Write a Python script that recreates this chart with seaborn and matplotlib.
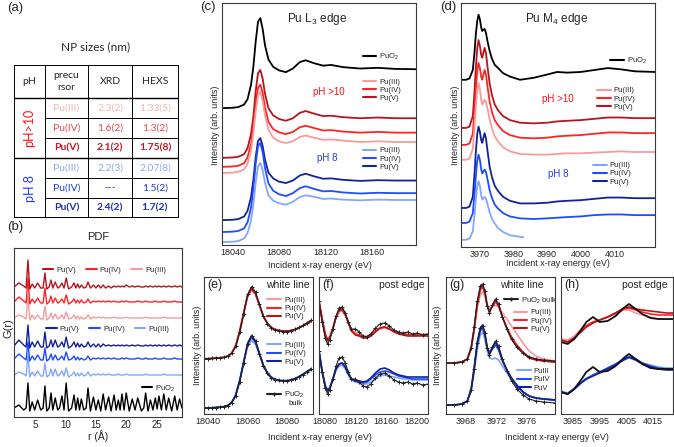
import matplotlib
matplotlib.use('Agg')
import matplotlib.pyplot as plt
import numpy as np
import seaborn as sns
from matplotlib.legend import Legend
from matplotlib.lines import Line2D
from matplotlib.ticker import FixedLocator, MultipleLocator

sns.set_style('white')
plt.rcParams['font.family'] = ['Liberation Sans', 'DejaVu Sans']
plt.rcParams['mathtext.fontset'] = 'custom'
plt.rcParams['mathtext.rm'] = 'Liberation Sans'

# ---------------- data ----------------
# (a) NP sizes table
table_precursor = ['Pu(III)', 'Pu(IV)', 'Pu(V)', 'Pu(III)', 'Pu(IV)', 'Pu(V)']
table_xrd = ['2.3(2)', '1.6(2)', '2.1(2)', '2.2(3)', '---', '2.4(2)']
table_hexs = ['1.33(5)', '1.3(2)', '1.75(8)', '2.07(8)', '1.5(2)', '1.7(2)']

# (b) PDF, G(r) (arb. units)
r_pdf = [1.5, 2.3, 3.1, 3.5, 3.8, 4.1, 4.5, 4.9, 5.4, 5.9,
         6.3, 6.6, 6.9, 7.3, 7.6, 7.9, 8.3, 8.7, 9.0, 9.4,
         9.75, 10.1, 10.5, 11.0, 11.4, 11.7, 12.0, 12.3, 12.6, 13.0,
         13.4, 13.7, 14.1, 14.6, 15.0, 15.4, 15.8, 16.2, 16.6, 17.1,
         17.5, 18.0, 18.35, 18.7, 19.0, 19.3, 19.65, 20.0, 20.5, 21.0,
         21.45, 21.9, 22.5, 22.9, 23.2, 23.6, 24.0, 24.4, 24.8, 25.1,
         25.4, 25.8, 26.2, 26.6, 27.0, 27.5, 28.0, 28.4, 28.8, 29.2]
g_puo2 = [0, 3, -2, 0, 25, -3, 6, -2, 8, -2,
          0, 22, -3, 0, 15, -2, 10, -2, 0, 12,
          -2, 25, -3, 0, 13, -2, 10, -2, 9, -2,
          0, 20, -3, 11, -2, 8, -3, 14, -2, 11,
          -3, 13, -2, 8, -2, 14, -2, 15, -3, 9,
          -2, 10, -3, 0, 15, -3, 8, -2, 10, -1,
          12, -2, 14, -2, 10, -3, 12, -2, 9, 0]
g_pu5_hi = [0, 4, 1, -1, 27, -2, 3, -1, 4, -1,
            -1, 14, -2, 0, 7, -1, 5, -1, 0, 4,
            -1, 9, -2, 0, 4, -1, 3, -1, 2, -1,
            0, 5, -1, 2, -1, 2, -1, 2, -1, 1,
            -1, 1, 0, 1, 0, 1, 0, 2, 0, 1,
            0, 1, 0, 0, 1, 0, 1, 0, 1, 0,
            1, 0, 1, 0, 1, 0, 1, 0, 1, 0]
g_pu4_hi = [0, 5, 1, -1, 24, -2, 3, -1, 4, -1,
            -1, 14, -2, 0, 6, -1, 4, -1, 0, 3,
            -1, 7, -2, 0, 3, -1, 2, -1, 2, -1,
            0, 3, -1, 1, 0, 1, 0, 1, 0, 1,
            0, 1, 0, 0, 0, 1, 0, 1, 0, 0,
            0, 1, 0, 0, 1, 0, 0, 0, 1, 0,
            0, 0, 1, 0, 0, 0, 1, 0, 0, 0]
g_pu3_hi = [0, 3, 1, -1, 22, -2, 3, -1, 3, -1,
            -1, 12, -2, 0, 5, -1, 4, -1, 0, 3,
            -1, 6, -1, 0, 3, -1, 2, -1, 1, -1,
            0, 3, -1, 1, 0, 1, 0, 1, 0, 0,
            0, 1, 0, 0, 0, 0, 0, 1, 0, 0,
            0, 0, 0, 0, 1, 0, 0, 0, 0, 0,
            0, 0, 1, 0, 0, 0, 0, 0, 0, 0]
g_pu5_8 = [0, 6, 1, -1, 21, -2, 4, -1, 5, -1,
           -1, 14, -2, 0, 6, -1, 6, -1, 0, 4,
           -1, 9, -2, 0, 4, -1, 3, -1, 2, -1,
           0, 4, -1, 2, -1, 2, -1, 2, 0, 1,
           0, 1, 0, 1, 0, 1, 0, 1, 0, 1,
           0, 1, 0, 0, 1, 0, 1, 0, 1, 0,
           1, 0, 1, 0, 1, 0, 1, 0, 1, 0]
g_pu4_8 = [0, 5, 1, -1, 17, -2, 3, -1, 4, -1,
           -1, 11, -2, 0, 5, -1, 4, -1, 0, 3,
           -1, 7, -1, 0, 3, -1, 2, -1, 1, -1,
           0, 3, -1, 1, 0, 1, 0, 1, 0, 1,
           0, 1, 0, 0, 0, 1, 0, 1, 0, 0,
           0, 1, 0, 0, 1, 0, 0, 0, 1, 0,
           0, 0, 1, 0, 0, 0, 1, 0, 0, 0]
g_pu3_8 = [0, 3, 1, -1, 20, -2, 3, -1, 4, -1,
           -1, 12, -2, 0, 6, -1, 6, -1, 0, 4,
           -1, 7, -2, 0, 3, -1, 2, -1, 2, -1,
           0, 3, -1, 1, 0, 1, 0, 1, 0, 1,
           0, 0, 0, 1, 0, 0, 0, 1, 0, 0,
           0, 0, 0, 0, 1, 0, 0, 0, 0, 0,
           0, 0, 1, 0, 0, 0, 0, 0, 0, 0]

# (c) Pu L3 edge, normalised intensity
e_l3 = [18031, 18040, 18045, 18050, 18053, 18056, 18058, 18060, 18062, 18064,
        18066, 18068, 18071, 18075, 18080, 18086, 18092, 18098, 18103, 18110,
        18118, 18125, 18135, 18150, 18165, 18180, 18201]
l3_puo2 = [0, 0.01, 0.03, 0.10, 0.25, 0.65, 1.15, 1.85, 2.40, 2.50, 2.20, 1.75, 1.35, 1.15,
           1.05, 1.00, 1.10, 1.28, 1.33, 1.25, 1.18, 1.20, 1.14, 1.10, 1.12, 1.09, 1.08]
l3_pu3_hi = [0, 0.01, 0.03, 0.10, 0.25, 0.62, 1.10, 1.70, 2.15, 2.25, 2.00, 1.60, 1.20, 0.98,
             0.88, 0.83, 0.88, 1.00, 1.04, 0.98, 0.92, 0.93, 0.90, 0.86, 0.88, 0.86, 0.86]
l3_pu4_hi = [0, 0.01, 0.03, 0.10, 0.26, 0.64, 1.12, 1.75, 2.20, 2.28, 2.05, 1.65, 1.25, 1.05,
             0.96, 0.91, 0.97, 1.10, 1.14, 1.08, 1.01, 1.02, 0.98, 0.95, 0.97, 0.95, 0.95]
l3_pu5_hi = [0, 0.01, 0.03, 0.10, 0.27, 0.66, 1.15, 1.85, 2.35, 2.44, 2.20, 1.78, 1.38, 1.18,
             1.08, 1.03, 1.10, 1.25, 1.30, 1.23, 1.16, 1.17, 1.13, 1.10, 1.12, 1.10, 1.10]
l3_pu3_8 = [0, 0.01, 0.03, 0.10, 0.25, 0.60, 1.05, 1.65, 2.10, 2.20, 2.00, 1.65, 1.30, 1.15,
            1.08, 1.04, 1.12, 1.25, 1.30, 1.26, 1.20, 1.21, 1.18, 1.16, 1.18, 1.17, 1.17]
l3_pu4_8 = [0, 0.01, 0.03, 0.10, 0.27, 0.68, 1.20, 1.90, 2.38, 2.47, 2.22, 1.78, 1.35, 1.15,
            1.05, 1.00, 1.08, 1.22, 1.27, 1.20, 1.13, 1.14, 1.10, 1.07, 1.09, 1.08, 1.08]
l3_pu5_8 = [0, 0.01, 0.03, 0.10, 0.26, 0.64, 1.12, 1.75, 2.20, 2.28, 2.06, 1.68, 1.32, 1.16,
            1.07, 1.03, 1.10, 1.24, 1.29, 1.22, 1.15, 1.16, 1.12, 1.09, 1.11, 1.10, 1.10]

# (d) Pu M4 edge
e_m4 = [3964.5, 3966, 3967, 3968, 3968.5, 3968.9, 3969.3, 3969.7, 3970.1, 3970.5,
        3970.8, 3971.1, 3971.5, 3971.9, 3972.4, 3973.0, 3973.7, 3974.5, 3975.5, 3977,
        3979, 3982, 3986, 3990, 3993, 3996, 4000, 4004, 4008, 4012,
        4016, 4022]
m4_puo2 = [0, 0, 0.02, 0.15, 0.42, 0.70, 0.90, 1.00, 0.93, 0.80,
           0.75, 0.77, 0.78, 0.72, 0.58, 0.44, 0.32, 0.23, 0.18, 0.10,
           0.05, 0.00, 0.03, 0.08, 0.12, 0.11, 0.12, 0.15, 0.18, 0.16,
           0.13, 0.12]
m4_pu5_hi = [0, 0, 0.02, 0.18, 0.55, 0.92, 1.22, 1.35, 1.26, 1.12,
             1.08, 1.15, 1.23, 1.15, 0.92, 0.68, 0.50, 0.36, 0.27, 0.18,
             0.12, 0.08, 0.07, 0.08, 0.10, 0.11, 0.12, 0.14, 0.16, 0.16,
             0.15, 0.15]
m4_pu4_hi = [0, 0, 0.02, 0.17, 0.52, 0.86, 1.14, 1.26, 1.18, 1.04,
             1.00, 1.07, 1.15, 1.08, 0.88, 0.66, 0.50, 0.38, 0.30, 0.21,
             0.15, 0.11, 0.10, 0.11, 0.13, 0.14, 0.15, 0.17, 0.19, 0.19,
             0.18, 0.18]
m4_pu3_hi = [0, 0, 0.02, 0.17, 0.50, 0.82, 1.07, 1.18, 1.08, 0.92,
             0.85, 0.88, 0.92, 0.89, 0.78, 0.62, 0.48, 0.36, 0.28, 0.19,
             0.13, 0.09, 0.08, 0.08, 0.09, 0.10, 0.10, 0.11, 0.12, 0.13,
             0.12, 0.12]
m4_pu5_8 = [0, 0, 0.02, 0.17, 0.52, 0.86, 1.13, 1.25, 1.17, 1.04,
            1.00, 1.07, 1.15, 1.07, 0.86, 0.63, 0.47, 0.34, 0.26, 0.17,
            0.11, 0.07, 0.07, 0.08, 0.10, 0.11, 0.12, 0.14, 0.16, 0.16,
            0.15, 0.15]
m4_pu4_8 = [0, 0, 0.02, 0.15, 0.44, 0.72, 0.95, 1.05, 0.97, 0.82,
            0.76, 0.79, 0.82, 0.78, 0.66, 0.50, 0.38, 0.28, 0.22, 0.15,
            0.10, 0.07, 0.06, 0.07, 0.08, 0.09, 0.10, 0.12, 0.13, 0.13,
            0.12, 0.12]
e_m4_pu3_8 = [3964.5, 3966, 3967, 3968, 3968.5, 3968.9, 3969.3, 3969.7, 3970.1, 3970.5,
              3970.8, 3971.1, 3971.5, 3971.9, 3972.4, 3973.0, 3973.7, 3974.5, 3975.5, 3977,
              3979, 3983]
m4_pu3_8 = [0, 0, 0.02, 0.13, 0.38, 0.62, 0.82, 0.90, 0.83, 0.68,
            0.62, 0.64, 0.66, 0.63, 0.54, 0.42, 0.32, 0.25, 0.18, 0.12,
            0.07, 0.04]

# (e) L3 white line
e_wl = [18038, 18040, 18042, 18044, 18046, 18048, 18050, 18052, 18054, 18056,
        18058, 18060, 18062, 18064, 18066, 18068, 18070, 18072, 18074, 18076,
        18078, 18080, 18082, 18084, 18086, 18088, 18090, 18092]
wl_puo2 = [0, 0, 0.01, 0.02, 0.03, 0.05, 0.09, 0.19, 0.44, 0.94, 1.60, 2.28, 2.56, 2.37,
           1.93, 1.50, 1.24, 1.08, 1.01, 0.98, 0.96, 0.96, 0.99, 1.04, 1.11, 1.19, 1.28, 1.37]
wl_pu5_hi = [0, 0, 0.01, 0.02, 0.03, 0.05, 0.09, 0.20, 0.45, 0.95, 1.60, 2.25, 2.50, 2.32,
             1.90, 1.50, 1.25, 1.10, 1.03, 1.00, 0.98, 0.98, 1.00, 1.04, 1.10, 1.17, 1.25, 1.33]
wl_pu4_hi = [0, 0, 0.01, 0.02, 0.03, 0.05, 0.09, 0.20, 0.46, 0.97, 1.62, 2.24, 2.47, 2.30,
             1.89, 1.50, 1.25, 1.10, 1.03, 1.00, 0.98, 0.98, 1.00, 1.04, 1.10, 1.17, 1.25, 1.33]
wl_pu3_hi = [0, 0, 0.01, 0.02, 0.03, 0.05, 0.09, 0.21, 0.48, 1.00, 1.63, 2.20, 2.42, 2.28,
             1.90, 1.52, 1.27, 1.12, 1.04, 1.01, 0.99, 0.99, 1.01, 1.05, 1.10, 1.17, 1.24, 1.31]
wl_pu5_8 = [0, 0, 0.01, 0.02, 0.03, 0.05, 0.09, 0.20, 0.45, 0.96, 1.62, 2.30, 2.57, 2.38,
            1.93, 1.50, 1.23, 1.07, 1.00, 0.97, 0.96, 0.96, 0.99, 1.04, 1.12, 1.20, 1.30, 1.39]
wl_pu4_8 = [0, 0, 0.01, 0.02, 0.03, 0.05, 0.09, 0.20, 0.46, 0.97, 1.62, 2.26, 2.50, 2.33,
            1.91, 1.50, 1.24, 1.08, 1.01, 0.98, 0.97, 0.97, 1.00, 1.05, 1.12, 1.20, 1.29, 1.38]
wl_pu3_8 = [0, 0, 0.01, 0.02, 0.03, 0.05, 0.09, 0.21, 0.48, 1.00, 1.62, 2.18, 2.39, 2.26,
            1.90, 1.53, 1.27, 1.11, 1.03, 1.00, 0.98, 0.98, 1.00, 1.05, 1.11, 1.19, 1.28, 1.36]

# (f) L3 post edge
e_pe = [18073, 18077, 18081, 18084, 18087, 18091, 18095, 18099, 18103, 18107,
        18111, 18115, 18120, 18125, 18130, 18135, 18140, 18146, 18152, 18158,
        18164, 18170, 18176, 18182, 18188, 18194, 18200, 18207, 18214]
pe_puo2 = [40, 19, 3, -3, 1, 12, 25, 33, 34, 28, 19, 12, 12, 9, 5,
           4, 7, 13, 17, 18, 15, 11, 9, 8, 9, 7, 8, 6, 7]
pe_pu5_hi = [40, 22, 6, 0, 3, 12, 24, 31, 32, 27, 18, 10, 6, 5, 3,
             3, 5, 9, 13, 14, 12, 9, 7, 6, 5, 5, 5, 5, 5]
pe_pu4_hi = [40, 22, 7, 1, 4, 13, 24, 30, 31, 26, 18, 11, 7, 6, 4,
             4, 6, 10, 13, 14, 12, 10, 8, 7, 6, 6, 6, 6, 6]
pe_pu3_hi = [40, 23, 8, 2, 5, 13, 23, 29, 30, 26, 18, 11, 8, 6, 5,
             5, 7, 10, 12, 13, 12, 10, 8, 7, 7, 7, 7, 7, 7]
pe_pu5_8 = [40, 20, 5, 0, 3, 12, 22, 27, 28, 24, 17, 12, 10, 10, 9,
            10, 13, 18, 22, 23, 21, 18, 16, 15, 14, 14, 14, 14, 14]
pe_pu4_8 = [40, 20, 5, 0, 3, 12, 22, 27, 28, 24, 17, 12, 10, 10, 8,
            9, 12, 16, 19, 20, 19, 17, 15, 14, 13, 12, 12, 12, 12]
pe_pu3_8 = [40, 21, 6, 1, 4, 12, 21, 25, 26, 22, 16, 11, 9, 8, 7,
            7, 9, 12, 15, 16, 15, 14, 13, 12, 12, 11, 11, 11, 11]

# (g) M4 white line
e_mwl = [3965.4, 3966.5, 3967.5, 3968.2, 3968.7, 3969.1, 3969.5, 3969.9, 3970.2, 3970.5,
         3970.8, 3971.1, 3971.5, 3971.9, 3972.3, 3972.8, 3973.4, 3974.0, 3974.7, 3975.5,
         3976.3, 3977.2, 3978.2, 3979.7]
mwl_puo2 = [0, 0, 1, 4, 15, 36, 62, 77, 79, 72, 57, 50, 58, 64, 59, 46, 34, 24, 16, 10, 6, 4, 3, 2]
mwl_pu5_hi = [0, 0, 1, 4, 15, 35, 60, 75, 78, 72, 58, 51, 58, 63, 58, 46, 34, 24, 16, 10, 5, 3, 2, 1]
mwl_pu4_hi = [0, 0, 1, 4, 15, 34, 58, 73, 76, 70, 57, 51, 57, 61, 57, 46, 35, 26, 18, 11, 6, 4, 2, 1]
mwl_pu3_hi = [0, 0, 1, 4, 14, 32, 55, 68, 71, 67, 58, 54, 56, 58, 56, 50, 44, 37, 29, 20, 12, 7, 4, 2]
mwl_pu5_8 = [0, 0, 1, 4, 16, 38, 63, 77, 80, 72, 58, 52, 58, 63, 57, 45, 35, 27, 20, 13, 9, 7, 6, 5]
mwl_pu4_8 = [0, 0, 1, 4, 15, 36, 60, 74, 77, 70, 57, 51, 56, 60, 55, 44, 34, 26, 19, 13, 9, 7, 6, 5]
mwl_pu3_8 = [0, 0, 1, 4, 14, 33, 56, 70, 73, 66, 54, 47, 46, 47, 45, 39, 32, 25, 19, 13, 9, 7, 6, 5]

# (h) M4 post edge
e_mpe = [3980.5, 3983, 3985.5, 3988, 3990, 3992.5, 3995, 3998, 4001, 4004,
         4006, 4008.5, 4011, 4014, 4017, 4020, 4022.5]
mpe_puo2 = [0, -2, 3, 12, 20, 25, 20, 21, 26, 34, 38, 33, 28, 24, 23, 23, 23]
mpe_pu5_hi = [2, 0, 4, 10, 15, 19, 22, 25, 29, 34, 35, 33, 32, 31, 30, 29, 29]
mpe_pu4_hi = [2, 0, 4, 11, 16, 20, 22, 25, 29, 33, 34, 32, 30, 28, 27, 27, 27]
mpe_pu3_hi = [3, 2, 6, 13, 17, 20, 22, 25, 28, 32, 32, 29, 27, 25, 23, 23, 23]
mpe_pu5_8 = [0, -2, 3, 9, 13, 16, 19, 23, 27, 32, 35, 32, 28, 25, 23, 22, 22]
mpe_pu4_8 = [0, -2, 3, 9, 13, 17, 20, 24, 28, 33, 35, 33, 29, 26, 24, 23, 23]
mpe_pu3_8 = [1, -1, 4, 10, 14, 17, 20, 24, 28, 32, 34, 32, 29, 27, 25, 24, 24]

# ---------------- styling ----------------
R3, R4, R5 = '#f59c9c', '#ff2424', '#b8141c'
B3, B4, B5 = '#84a6ff', '#1f4cff', '#14229a'
TXT_R, TXT_B = '#ff1010', '#2238ff'
SPINE = '#3a3a3a'

W, H = 674, 447
fig = plt.figure(figsize=(W / 100, H / 100), dpi=100)


def box(x0, y0, x1, y1):
    # axes given in pixel corners of the reference picture
    return fig.add_axes([x0 / W, 1 - y1 / H, (x1 - x0) / W, (y1 - y0) / H])


def trace(ax, x, y, shift, color, lw=1.3, marker=None):
    yy = np.asarray(y, dtype=float) + shift
    kw = {}
    if marker:
        kw = dict(marker=marker, markersize=3.5, markeredgewidth=0.7, markeredgecolor=color)
    sns.lineplot(x=list(x), y=yy, ax=ax, color=color, lw=lw, sort=False, estimator=None, **kw)


def style(ax, xlim, ylim, ticks, minor, size=6.5):
    ax.set_xlim(xlim)
    ax.set_ylim(ylim)
    ax.xaxis.set_major_locator(FixedLocator(ticks))
    ax.xaxis.set_minor_locator(MultipleLocator(minor))
    ax.set_yticks([])
    ax.tick_params(axis='x', which='major', direction='in', length=3.5, width=0.7,
                   labelsize=size, pad=2, color=SPINE)
    ax.tick_params(axis='x', which='minor', direction='in', length=2, width=0.6, color=SPINE)
    for s in ax.spines.values():
        s.set_linewidth(0.8)
        s.set_color(SPINE)
    ax.set_xlabel('')
    ax.set_ylabel('')


def key(ax, labels, colors, anchor, fs=5.5, marker=None, ncol=1, hl=1.8, cs=1.0):
    handles = [Line2D([], [], color=c, lw=1.5, marker=marker, markersize=3.5, mec=c) for c in colors]
    leg = Legend(ax, handles, labels, loc='center left', bbox_to_anchor=anchor, frameon=False,
                 fontsize=fs, handlelength=hl, handletextpad=0.4, labelspacing=0.12,
                 borderpad=0, borderaxespad=0, ncol=ncol, columnspacing=cs)
    ax.add_artist(leg)


ax_b = box(14, 248, 182, 417)
ax_c = box(222, 3, 416, 245)
ax_d = box(461, 3, 655, 247)
ax_e = box(204, 277, 313, 414)
ax_f = box(319, 277, 428, 414)
ax_g = box(446, 277, 555, 414)
ax_h = box(561, 277, 673, 414)

# (b) PDF
for y, c, off in [(g_puo2, 'k', 9), (g_pu3_8, B3, 42), (g_pu4_8, B4, 58), (g_pu5_8, B5, 71),
                  (g_pu3_hi, R3, 99), (g_pu4_hi, R4, 115), (g_pu5_hi, R5, 130)]:
    trace(ax_b, r_pdf, y, off, c, lw=1.0)
style(ax_b, (1.5, 29.2), (0, 169), [5, 10, 15, 20, 25], 1, size=7)
ax_b.set_xlabel('r (Å)', fontsize=7.5, labelpad=0)
key(ax_b, ['Pu(V)', 'Pu(IV)', 'Pu(III)'], [R5, R4, R3], (0.17, 0.87), ncol=3, hl=1.4, cs=1.3)
key(ax_b, ['Pu(V)', 'Pu(IV)', 'Pu(III)'], [B5, B4, B3], (0.19, 0.52), ncol=3, hl=1.4, cs=1.3)
key(ax_b, ['PuO$_2$'], ['k'], (0.76, 0.17), hl=1.4)

# (c) L3 edge
for y, c, off in [(l3_puo2, 'k', 3.8), (l3_pu5_hi, R5, 2.42), (l3_pu4_hi, R4, 2.17),
                  (l3_pu3_hi, R3, 2.0), (l3_pu5_8, B5, 0.69), (l3_pu4_8, B4, 0.36),
                  (l3_pu3_8, B3, 0.08)]:
    trace(ax_c, e_l3, y, off, c)
style(ax_c, (18031, 18198), (0, 6.72), [18040, 18080, 18120, 18160], 10)
ax_c.text(0.49, 0.935, 'Pu L$_3$ edge', transform=ax_c.transAxes, ha='center', va='center', fontsize=8.5)
ax_c.text(0.55, 0.632, 'pH >10', transform=ax_c.transAxes, ha='center', va='center', fontsize=7, color=TXT_R)
ax_c.text(0.54, 0.36, 'pH 8', transform=ax_c.transAxes, ha='center', va='center', fontsize=7, color=TXT_B)
key(ax_c, ['PuO$_2$'], ['k'], (0.725, 0.777))
key(ax_c, ['Pu(III)', 'Pu(IV)', 'Pu(V)'], [R3, R4, R5], (0.725, 0.64))
key(ax_c, ['Pu(III)', 'Pu(IV)', 'Pu(V)'], [B3, B4, B5], (0.725, 0.355))

# (d) M4 edge
for x, y, c, off in [(e_m4, m4_puo2, 'k', 2.57), (e_m4, m4_pu5_hi, R5, 1.83),
                     (e_m4, m4_pu4_hi, R4, 1.57), (e_m4, m4_pu3_hi, R3, 1.34),
                     (e_m4, m4_pu5_8, B5, 0.60), (e_m4, m4_pu4_8, B4, 0.37),
                     (e_m4_pu3_8, m4_pu3_8, B3, 0.11)]:
    trace(ax_d, x, y, off, c)
style(ax_d, (3964.5, 4022), (0, 3.75), [3970, 3980, 3990, 4000, 4010], 2)
ax_d.text(0.495, 0.935, 'Pu M$_4$ edge', transform=ax_d.transAxes, ha='center', va='center', fontsize=8.5)
ax_d.text(0.5, 0.607, 'pH >10', transform=ax_d.transAxes, ha='center', va='center', fontsize=7, color=TXT_R)
ax_d.text(0.5, 0.30, 'pH 8', transform=ax_d.transAxes, ha='center', va='center', fontsize=7, color=TXT_B)
key(ax_d, ['PuO$_2$'], ['k'], (0.77, 0.762))
key(ax_d, ['Pu(III)', 'Pu(IV)', 'Pu(V)'], [R3, R4, R5], (0.70, 0.607))
key(ax_d, ['Pu(III)', 'Pu(IV)', 'Pu(V)'], [B3, B4, B5], (0.68, 0.30))

# (e) L3 white line
for y, c, off in [(wl_pu3_hi, R3, 1.96), (wl_pu4_hi, R4, 1.96), (wl_pu5_hi, R5, 1.96),
                  (wl_pu3_8, B3, 0.21), (wl_pu4_8, B4, 0.21), (wl_pu5_8, B5, 0.21)]:
    trace(ax_e, e_wl, y, off, c, lw=1.2)
for off in (1.96, 0.21):
    trace(ax_e, e_wl, wl_puo2, off, '#222222', lw=0.8, marker='+')
style(ax_e, (18038, 18093), (0, 4.86), [18040, 18060, 18080], 5)
key(ax_e, ['Pu(III)', 'Pu(IV)', 'Pu(V)'], [R3, R4, R5], (0.58, 0.77))
key(ax_e, ['Pu(III)', 'Pu(IV)', 'Pu(V)'], [B3, B4, B5], (0.58, 0.44))
key(ax_e, ['PuO$_2$'], ['#222222'], (0.58, 0.14), marker='+')
ax_e.text(0.775, 0.075, 'bulk', transform=ax_e.transAxes, ha='left', va='center', fontsize=5.5)

# (f) L3 post edge
for y, c, off in [(pe_pu3_hi, R3, 73), (pe_pu4_hi, R4, 73), (pe_pu5_hi, R5, 73),
                  (pe_pu3_8, B3, 23), (pe_pu4_8, B4, 23), (pe_pu5_8, B5, 23)]:
    trace(ax_f, e_pe, y, off, c, lw=1.2)
for off in (73, 23):
    trace(ax_f, e_pe, pe_puo2, off, '#222222', lw=0.8, marker='+')
style(ax_f, (18073, 18214), (0, 137), [18080, 18120, 18160, 18200], 10)

# (g) M4 white line
for y, c, off in [(mwl_pu3_hi, R3, 51), (mwl_pu4_hi, R4, 51), (mwl_pu5_hi, R5, 51),
                  (mwl_pu3_8, B3, 9), (mwl_pu4_8, B4, 9), (mwl_pu5_8, B5, 9)]:
    trace(ax_g, e_mwl, y, off, c, lw=1.2)
for off in (51, 9):
    trace(ax_g, e_mwl, mwl_puo2, off, '#222222', lw=0.8, marker='+')
style(ax_g, (3965.4, 3979.7), (0, 137), [3968, 3972, 3976], 1)
key(ax_g, ['PuO$_2$ bulk'], ['#222222'], (0.53, 0.83), marker='+')
key(ax_g, ['Pu(III)', 'Pu(IV)', 'Pu(V)'], [R3, R4, R5], (0.62, 0.68))
key(ax_g, ['PuIII', 'PuIV', 'PuV'], [B3, B4, B5], (0.65, 0.25))

# (h) M4 post edge
for y, c, off in [(mpe_pu3_hi, R3, 72), (mpe_pu4_hi, R4, 72), (mpe_pu5_hi, R5, 72),
                  (mpe_pu3_8, B3, 22), (mpe_pu4_8, B4, 22), (mpe_pu5_8, B5, 22)]:
    trace(ax_h, e_mpe, y, off, c, lw=1.2)
for off in (72, 22):
    trace(ax_h, e_mpe, mpe_puo2, off, '#111111', lw=1.3)
style(ax_h, (3980.5, 4022.5), (0, 137), [3985, 3995, 4005, 4015], 2.5)

for ax, lab, note, nx in [(ax_e, '(e)', 'white line', 0.97), (ax_f, '(f)', 'post edge', 0.97),
                          (ax_g, '(g)', 'white line', 0.9), (ax_h, '(h)', 'post edge', 0.95)]:
    ax.text(0.03, 0.94, lab, transform=ax.transAxes, ha='left', va='center', fontsize=9)
    ax.text(nx, 0.94, note, transform=ax.transAxes, ha='right', va='center', fontsize=7.5)

# overlay in pixel coordinates: table, panel letters, shared labels
ov = fig.add_axes([0, 0, 1, 1])
ov.set_xlim(0, W)
ov.set_ylim(H, 0)
ov.axis('off')
ov.patch.set_visible(False)

for s, x, y in [('(a)', 7, 8), ('(b)', 7, 227), ('(c)', 200, 7), ('(d)', 440, 7)]:
    ov.text(x, y, s, ha='left', va='center', fontsize=9.5)

ylab = 'Intensity (arb. units)'
for x, y in [(215, 125), (455, 125), (197, 345), (438, 345)]:
    ov.text(x, y, ylab, rotation=90, ha='center', va='center', fontsize=6.5)
ov.text(8, 328, 'G(r)', rotation=90, ha='center', va='center', fontsize=8)
xlab = 'Incident x-ray energy (eV)'
for x, y in [(320, 265), (558, 264), (320, 437), (557, 437)]:
    ov.text(x, y, xlab, ha='center', va='center', fontsize=6.5)
ov.text(98, 237, 'PDF', ha='center', va='center', fontsize=8)

# table (a)
tf = ['Lato', 'DejaVu Sans']
ov.text(96, 47, 'NP sizes (nm)', ha='center', va='center', fontsize=8.5, family=tf)
cols = [14, 45, 88, 132, 178]
rows = [65, 98, 118, 138, 158, 178, 198, 217]
for x in cols:
    ov.plot([x, x], [rows[0], rows[-1]], color='k', lw=0.7)
for y in rows:
    if y in (118, 138, 178, 198):
        ov.plot([cols[1], cols[-1]], [y, y], color='k', lw=0.7)
    else:
        ov.plot([cols[0], cols[-1]], [y, y], color='k', lw=1.0 if y in (98, 158) else 0.7)
hy = (rows[0] + rows[1]) / 2
for s, i in [('pH', 0), ('precu\nrsor', 1), ('XRD', 2), ('HEXS', 3)]:
    ov.text((cols[i] + cols[i + 1]) / 2, hy, s, ha='center', va='center', fontsize=7.5,
            family=tf, linespacing=1.3)
ov.text(29.5, 128, 'pH>10', rotation=90, ha='center', va='center', fontsize=9, color=TXT_R, family=tf)
ov.text(29.5, 188, 'pH 8', rotation=90, ha='center', va='center', fontsize=9, color=TXT_B, family=tf)
row_colors = ['#f7b4b4', '#f0474a', '#c8161d', '#8ea9f2', '#1c3cf0', '#1d2fbf']
for k in range(6):
    yc = (rows[k + 1] + rows[k + 2]) / 2
    wt = 'bold' if k in (2, 5) else 'normal'
    for i, s in [(1, table_precursor[k]), (2, table_xrd[k]), (3, table_hexs[k])]:
        ov.text((cols[i] + cols[i + 1]) / 2, yc, s, ha='center', va='center', fontsize=7.5,
                color=row_colors[k], family=tf, fontweight=wt)

fig.savefig('out.png', dpi=100)
